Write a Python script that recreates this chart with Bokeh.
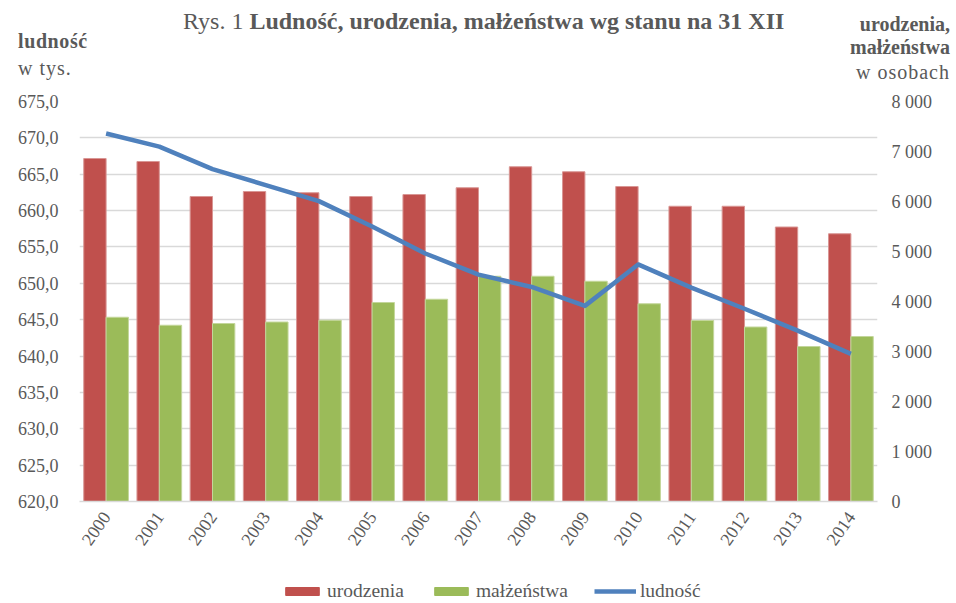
import math
from bokeh.plotting import figure
from bokeh.layouts import column
from bokeh.models import (Range1d, LinearAxis, FixedTicker, CustomJSTickFormatter,
                          Legend, LegendItem, ColumnDataSource, FactorRange, Div)
from bokeh.transform import dodge
from bokeh.embed import file_html
from bokeh.resources import INLINE

years = ["2000", "2001", "2002", "2003", "2004", "2005", "2006", "2007",
         "2008", "2009", "2010", "2011", "2012", "2013", "2014"]
urodzenia = [6860, 6800, 6100, 6200, 6175, 6100, 6140, 6275,
             6695, 6595, 6300, 5905, 5905, 5490, 5355]
malzenstwa = [3685, 3525, 3560, 3590, 3625, 3980, 4045, 4505,
              4505, 4405, 3955, 3620, 3490, 3100, 3300]
ludnosc = [670.6, 668.8, 665.7, 663.5, 661.3, 657.8, 654.1, 651.2,
           649.5, 646.9, 652.6, 649.4, 646.5, 643.5, 640.3]
left_ticks = [620, 625, 630, 635, 640, 645, 650, 655, 660, 665, 670, 675]
right_ticks = [0, 1000, 2000, 3000, 4000, 5000, 6000, 7000, 8000]

title_normal = "Rys. 1"
title_bold = "Ludność, urodzenia, małżeństwa  wg stanu na 31 XII"
left_caption = ["ludność", "w tys."]
right_caption = ["urodzenia,", "małżeństwa", "w osobach"]
legend_labels = ["urodzenia", "małżeństwa", "ludność"]

FONT = "Liberation Serif"
GREY = "#595959"
RED, GREEN, BLUE = "#C0504D", "#9BBB59", "#4F81BD"
W = 954
H_HEAD = 91
H_FOOT = 47
H_MAIN = 602 - H_HEAD - H_FOOT

# ---------------- header: title and axis captions as SVG text ----------------
svg = f"""<svg xmlns="http://www.w3.org/2000/svg" width="{W}" height="{H_HEAD}"
 style="display:block;font-family:'{FONT}';fill:{GREY};white-space:pre">
<text x="183" y="29" font-size="24">{title_normal} <tspan font-weight="bold">{title_bold}</tspan></text>
<text x="18" y="48" font-size="20" font-weight="bold" letter-spacing="0.6">{left_caption[0]}</text>
<text x="18" y="75" font-size="20" letter-spacing="1">{left_caption[1]}</text>
<text x="950" y="31" font-size="20" font-weight="bold" text-anchor="end">{right_caption[0]}</text>
<text x="950" y="54" font-size="20" font-weight="bold" text-anchor="end">{right_caption[1]}</text>
<text x="950" y="79" font-size="20" letter-spacing="1" text-anchor="end">{right_caption[2]}</text>
</svg>"""
head = Div(text=svg, width=W, height=H_HEAD, margin=0)

# ---------------- main chart ----------------
src = ColumnDataSource(dict(year=years, uro=urodzenia, mal=malzenstwa, lud=ludnosc))

p = figure(width=W, height=H_MAIN, x_range=FactorRange(*years),
           y_range=Range1d(620, 675), output_backend="svg", toolbar_location=None,
           min_border_left=79, min_border_right=77, min_border_top=10,
           min_border_bottom=H_MAIN - 410)
p.outline_line_color = None
p.extra_y_ranges = {"right": Range1d(0, 8000)}
p.x_range.range_padding = 0

p.vbar(x=dodge("year", -0.21, range=p.x_range), top="uro", bottom=0, width=0.42,
       source=src, y_range_name="right", fill_color=RED, line_color="#D99694", line_width=1)
p.vbar(x=dodge("year", 0.21, range=p.x_range), top="mal", bottom=0, width=0.42,
       source=src, y_range_name="right", fill_color=GREEN, line_color="#C3D69B", line_width=1)
p.line(x="year", y="lud", source=src, line_color=BLUE, line_width=4.5, line_join="round")

ya = p.yaxis[0]
ya.ticker = FixedTicker(ticks=left_ticks)
ya.formatter = CustomJSTickFormatter(code="return tick.toFixed(1).replace('.', ',');")
ya.axis_line_color = None
ya.major_tick_line_color = None
ya.minor_tick_line_color = None
ya.major_label_standoff = 15
ya.major_label_text_font = FONT
ya.major_label_text_font_size = "18px"
ya.major_label_text_color = GREY

ra = LinearAxis(y_range_name="right", ticker=FixedTicker(ticks=right_ticks),
                formatter=CustomJSTickFormatter(
                    code=r"return tick.toString().replace(/\B(?=(\d{3})+(?!\d))/g, ' ');"))
ra.axis_line_color = None
ra.major_tick_line_color = None
ra.minor_tick_line_color = None
ra.major_label_standoff = 8
ra.major_label_text_font = FONT
ra.major_label_text_font_size = "18px"
ra.major_label_text_color = GREY
p.add_layout(ra, "right")

xa = p.xaxis[0]
xa.axis_line_color = "#D9D9D9"
xa.axis_line_width = 1.5
xa.major_tick_line_color = None
xa.minor_tick_line_color = None
xa.major_label_orientation = math.radians(55)
xa.major_label_standoff = 6
xa.major_label_text_font = FONT
xa.major_label_text_font_size = "18px"
xa.major_label_text_color = GREY

p.xgrid.visible = False
p.ygrid.grid_line_color = "#D9D9D9"
p.ygrid.grid_line_width = 1.5

# ---------------- footer: legend (swatch renderers sit outside the footer's view) -----
foot = figure(width=W, height=H_FOOT, x_range=Range1d(0, 1), y_range=Range1d(0, 1),
              x_axis_type=None, y_axis_type=None, output_backend="svg",
              toolbar_location=None, min_border=0)
foot.outline_line_color = None
foot.grid.visible = False
off = ColumnDataSource(dict(x=[-5, -4], y=[-5, -5]))
l_uro = foot.vbar(x="x", top="y", width=0.1, source=off, fill_color=RED, line_color=RED)
l_mal = foot.vbar(x="x", top="y", width=0.1, source=off, fill_color=GREEN, line_color=GREEN)
l_lud = foot.line(x="x", y="y", source=off, line_color=BLUE, line_width=4.5)

legend = Legend(items=[LegendItem(label=legend_labels[0], renderers=[l_uro]),
                       LegendItem(label=legend_labels[1], renderers=[l_mal]),
                       LegendItem(label=legend_labels[2], renderers=[l_lud])],
                location=(202, 0), orientation="horizontal",
                padding=0, margin=0, spacing=26, label_standoff=4,
                glyph_width=42, glyph_height=10,
                label_text_font=FONT, label_text_font_size="19.5px",
                label_text_color=GREY, border_line_color=None,
                background_fill_alpha=0)
foot.add_layout(legend)

layout = column(head, p, foot, spacing=0)
open("out.html", "w").write(file_html(layout, INLINE))
